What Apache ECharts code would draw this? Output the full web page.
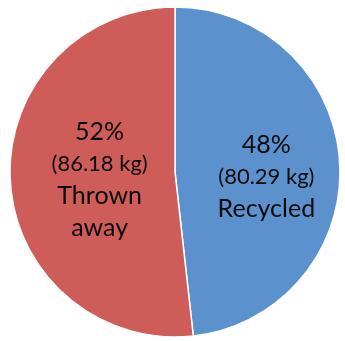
<!DOCTYPE html>
<html>
<head>
<meta charset="utf-8">
<script src="https://cdn.jsdelivr.net/npm/echarts@6/dist/echarts.min.js"></script>
<style>
  html, body { margin: 0; padding: 0; background: #fff; }
  #pie { width: 345px; height: 341px; }
</style>
</head>
<body>
<div id="pie"></div>
<script>
  // data
  const names = ['Recycled', 'Thrown\naway'];
  const kg = [80.29, 86.18];
  const pct = [48, 52];
  const colors = ['#5b92ce', '#ce5c58'];

  let chart = echarts.init(document.getElementById('pie'));

  let option = {
    animation: false,
    series: [
      {
        type: 'pie',
        center: [175, 172],
        radius: [0, 165],
        startAngle: 90,
        clockwise: true,
        data: names.map((n, i) => ({
          name: n,
          value: kg[i],
          itemStyle: { color: colors[i] }
        })),
        itemStyle: {
          borderColor: '#fff',
          borderWidth: 1.5
        },
        label: {
          show: true,
          position: 'inside',
          formatter: p => {
            let i = p.dataIndex;
            return '{a|' + pct[i] + '%}\n{b|(' + kg[i].toFixed(2) + ' kg)}\n{a|' + names[i].split('\n').join('}\n{a|') + '}';
          },
          rich: {
            a: { fontFamily: 'Lato', fontSize: 25, lineHeight: 32, color: '#0a0a0a' },
            b: { fontFamily: 'Lato', fontSize: 22, lineHeight: 32, color: '#0a0a0a' }
          }
        },
        labelLayout: p => {
          return p.dataIndex === 0 ? { dx: 6, dy: 10 } : { dx: 10, dy: 3 };
        },
        labelLine: { show: false }
      }
    ]
  };
  chart.setOption(option);
</script>
</body>
</html>
